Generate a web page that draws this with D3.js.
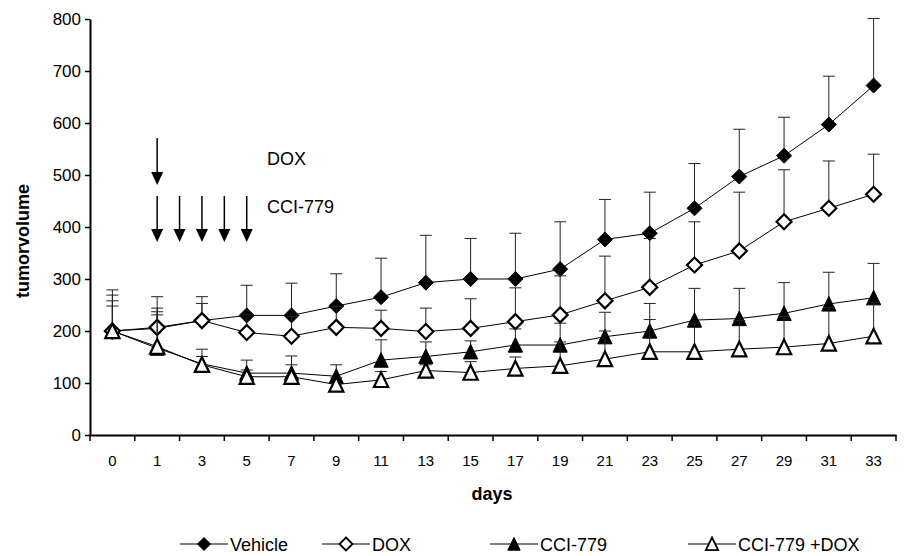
<!DOCTYPE html>
<html>
<head>
<meta charset="utf-8">
<script src="https://cdn.jsdelivr.net/npm/d3@7"></script>
<style>
  body { margin: 0; background: #fff; }
  svg text { font-family: "Liberation Sans", Arial, sans-serif; fill: #000; }
  .tick text { font-size: 15px; }
  .yaxis .tick text { font-size: 17px; }
  .title { font-size: 18px; font-weight: bold; }
  .note { font-size: 18px; }
  .legend { font-size: 18px; }
</style>
</head>
<body>
<svg width="904" height="556"></svg>
<script>
// Categories (days)
const days = ["0","1","3","5","7","9","11","13","15","17","19","21","23","25","27","29","31","33"];

// Means per group
const vehicle = [200,205,220,230,230,248,265,293,300,300,319,376,388,436,497,537,597,672];
const dox     = [200,207,220,197,190,207,205,199,205,218,231,258,284,327,354,410,436,463];
const cci     = [200,167,137,119,119,113,144,151,160,173,173,189,200,221,224,234,252,264];
const combo   = [200,170,135,112,112, 97,106,124,120,128,133,146,160,160,165,169,176,190];

// Upper error (SD) per group
const vehicleErr = [79,61,46,58,62,62,75,91,78,88,91,77,79,86,91,74,93,129];
const doxErr     = [69,37,33,35,38,40,35,45,57,65,75,86,94,83,113,100,91,77];
const cciErr     = [58,70,28,25,33,22,39,28,21,31,42,47,53,61,58,59,61,66];
const comboErr   = [48,61,16,13,23,13,16,11,21,22,46,54,62,55,55,59,69,65];

const yTicks = [0,100,200,300,400,500,600,700,800];

// Treatment arrows (category position, in band units)
const doxArrows = [1];
const cciArrows = [1, 1.5, 2, 2.5, 3];

const svg = d3.select("svg");

const x = d3.scaleBand().domain(days).range([90, 896]).padding(0);
const y = d3.scaleLinear().domain([0, 800]).range([435, 19]);
const cx = d => x(d) + x.bandwidth() / 2;
const bandPos = i => x.range()[0] + x.bandwidth() * (i + 0.5);

// marker shapes
const diamond = r => `M0,${-r}L${r},0L0,${r}L${-r},0Z`;
const triangle = r => `M0,${-r}L${r*0.95},${r*0.95}L${-r*0.95},${r*0.95}Z`;

const series = [
  {name: "Vehicle",      values: vehicle, err: vehicleErr, shape: diamond,  filled: true},
  {name: "DOX",          values: dox,     err: doxErr,     shape: diamond,  filled: false},
  {name: "CCI-779",      values: cci,     err: cciErr,     shape: triangle, filled: true},
  {name: "CCI-779 +DOX", values: combo,   err: comboErr,   shape: triangle, filled: false}
];

// y axis
svg.append("g")
    .attr("class", "yaxis")
    .attr("transform", "translate(90,0)")
    .call(d3.axisLeft(y).tickValues(yTicks).tickSize(5).tickSizeOuter(0).tickPadding(4))
    .call(g => g.select(".domain").attr("stroke-width", 2))
    .call(g => g.selectAll(".tick line").attr("stroke-width", 1.5));

// x axis (labels centred, ticks between categories)
const xAxis = svg.append("g")
    .attr("transform", "translate(0,435)")
    .call(d3.axisBottom(x).tickSize(0).tickSizeOuter(0).tickPadding(20));
xAxis.select(".domain").attr("stroke-width", 2);
xAxis.selectAll(".boundary")
    .data(d3.range(days.length + 1))
    .join("line")
    .attr("class", "boundary")
    .attr("x1", i => x.range()[0] + i * x.bandwidth())
    .attr("x2", i => x.range()[0] + i * x.bandwidth())
    .attr("y1", 0).attr("y2", 6)
    .attr("stroke", "#000").attr("stroke-width", 1.5);

// axis titles
svg.append("text")
    .attr("class", "title")
    .attr("text-anchor", "middle")
    .attr("transform", "translate(29,241) rotate(-90)")
    .text("tumorvolume");

svg.append("text")
    .attr("class", "title")
    .attr("text-anchor", "middle")
    .attr("x", 492).attr("y", 500)
    .text("days");

// series: error bars, lines, markers
const line = d3.line().x((d, i) => cx(days[i])).y(d => y(d));

series.forEach(s => {
  const g = svg.append("g");

  g.selectAll(".err")
    .data(s.values)
    .join("g")
    .attr("stroke", "#222").attr("stroke-width", 1)
    .each(function(d, i) {
      const px = cx(days[i]);
      const top = y(d + s.err[i]);
      d3.select(this).append("line")
        .attr("x1", px).attr("x2", px).attr("y1", y(d)).attr("y2", top);
      d3.select(this).append("line")
        .attr("x1", px - 6).attr("x2", px + 6).attr("y1", top).attr("y2", top);
    });

  g.append("path")
    .datum(s.values)
    .attr("d", line)
    .attr("fill", "none")
    .attr("stroke", "#000")
    .attr("stroke-width", 1);

  g.selectAll(".mark")
    .data(s.values)
    .join("path")
    .attr("transform", (d, i) => `translate(${cx(days[i])},${y(d)})`)
    .attr("d", s.shape(7.5))
    .attr("fill", s.filled ? "#000" : "#fff")
    .attr("stroke", "#000")
    .attr("stroke-width", s.filled ? 1 : 2.2);
});

// treatment arrows
function arrow(px, y1, y2) {
  svg.append("line")
    .attr("x1", px).attr("x2", px).attr("y1", y1).attr("y2", y2 - 12)
    .attr("stroke", "#000").attr("stroke-width", 1.5);
  svg.append("path")
    .attr("d", `M${px - 6},${y2 - 13}L${px + 6},${y2 - 13}L${px},${y2}Z`)
    .attr("fill", "#000");
}
doxArrows.forEach(i => arrow(bandPos(i), 138, 185));
cciArrows.forEach(i => arrow(bandPos(i), 196, 242));

svg.append("text").attr("class", "note").attr("x", 267).attr("y", 165).text("DOX");
svg.append("text").attr("class", "note").attr("x", 267).attr("y", 213).text("CCI-779");

// legend
const legendX = [180, 322, 490, 688];
const legend = svg.append("g").attr("transform", "translate(0,544)");
series.forEach((s, i) => {
  const lg = legend.append("g").attr("transform", `translate(${legendX[i]},0)`);
  lg.append("line").attr("x1", 0).attr("x2", 48).attr("y1", 0).attr("y2", 0)
    .attr("stroke", "#000").attr("stroke-width", 1);
  lg.append("path")
    .attr("transform", "translate(24,0)")
    .attr("d", s.shape(6.5))
    .attr("fill", s.filled ? "#000" : "#fff")
    .attr("stroke", "#000")
    .attr("stroke-width", s.filled ? 1 : 1.8);
  lg.append("text")
    .attr("class", "legend")
    .attr("x", 50).attr("y", 7)
    .text(s.name);
});
</script>
</body>
</html>
